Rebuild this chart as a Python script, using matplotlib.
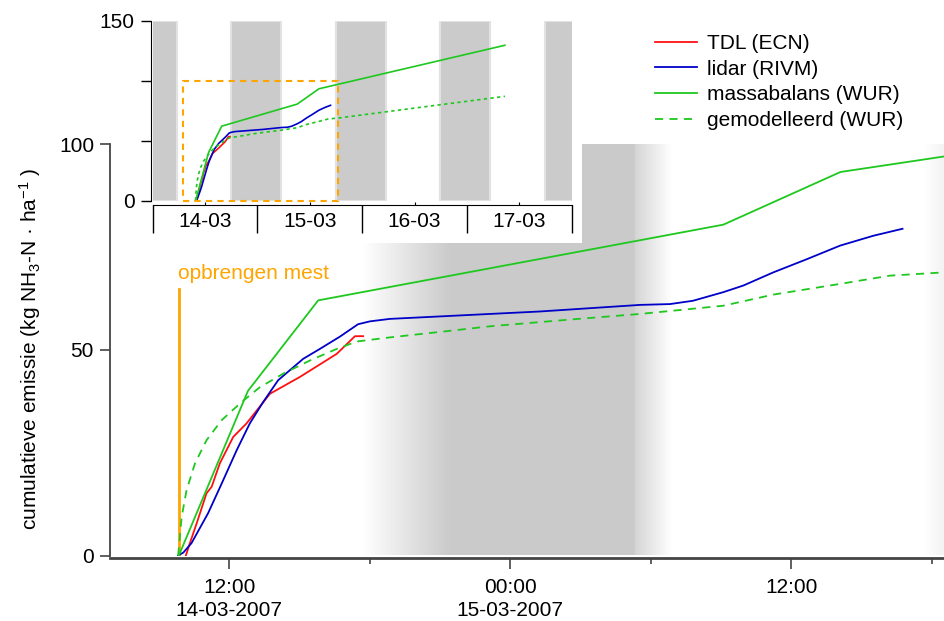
import numpy as np
import matplotlib
matplotlib.use('Agg')
from matplotlib import pyplot as plt
from matplotlib.patches import Rectangle

plt.rcParams['font.family'] = ['Liberation Sans', 'DejaVu Sans']
plt.rcParams['mathtext.fontset'] = 'custom'
plt.rcParams['mathtext.rm'] = 'Liberation Sans'
plt.rcParams['mathtext.it'] = 'Liberation Sans:italic'
plt.rcParams['font.size'] = 15

# time in hours since 14-03-2007 00:00, values in kg NH3-N/ha
tdl_t = [10.15, 10.32, 10.61, 11.03, 11.25, 11.60, 12.17, 12.74, 13.74, 15.02, 16.59, 17.37, 17.72]
tdl_v = [0, 3.0, 7.8, 15.1, 16.7, 22.4, 28.8, 32.1, 39.3, 43.4, 49.0, 53.3, 53.3]

lidar_t = [9.82, 10.04, 10.39, 11.10, 11.68, 12.32, 12.88, 13.45, 14.09, 15.16, 15.87, 16.73,
           17.50, 18.01, 18.86, 21.0, 23.13, 25.27, 29.54, 30.82, 31.8, 33.1, 33.95, 35.23,
           36.66, 38.08, 39.5, 40.75]
lidar_v = [0, 0.7, 3.0, 10.3, 17.5, 25.6, 32.1, 37.3, 42.6, 47.8, 50.2, 53.2,
           56.2, 56.9, 57.5, 58.1, 58.7, 59.3, 60.9, 61.1, 61.9, 64.0, 65.6, 68.8,
           72.0, 75.3, 77.7, 79.4]

massa_t = [9.85, 12.8, 15.8, 33.1, 38.1, 80.7]
massa_v = [0, 40.0, 62.0, 80.4, 93.2, 129.5]

model_t = [9.82, 9.97, 10.18, 10.54, 11.03, 11.68, 12.53, 13.31, 14.31, 15.45, 16.59, 17.44,
           18.86, 21.42, 23.13, 26.69, 29.54, 33.1, 35.23, 38.08, 40.2, 42.5, 80.7]
model_v = [0, 9.4, 15.9, 22.4, 28.0, 32.9, 37.3, 40.9, 44.2, 47.4, 50.2, 52.0,
           53.0, 54.6, 55.7, 57.4, 58.7, 60.7, 63.4, 66.0, 68.0, 68.8, 86.9]

application_t = 9.85
application_top = 64.8

# night shading (main: gradient keypoints, inset: plain bands)
shade_t = [17.7, 21.4, 29.3, 29.35, 30.9, 41.7, 45.4]
shade_level = [0, 1, 1, 0.8, 0, 0, 1]
inset_night_start = [-6.5, 17.9, 41.9, 65.8, 89.9]
inset_night_end = [5.6, 29.5, 53.4, 77.3, 101.5]

main_ticks = [12, 24, 36]
main_minor = [18, 30, 42]
main_labels = ['12:00\n14-03-2007', '00:00\n15-03-2007', '12:00']
inset_days = [0, 24, 48, 72, 96]
inset_noon = [12, 36, 60, 84]
inset_labels = ['14-03', '15-03', '16-03', '17-03']

t_min, t_max = 6.91, 42.52
red = '#ff1010'
blue = '#0000c8'
green = '#1ec81e'
orange = '#ffa500'
grey = 0.796
axcol = '#444444'

fig = plt.figure(figsize=(9.44, 6.21), dpi=100)
ax = fig.add_axes([110/944, 1-555.5/621, 834/944, 411.5/621])
ax.set_zorder(0)

tt = np.linspace(t_min, t_max, 800)
lev = np.interp(tt, shade_t, shade_level)
col = 1 - lev * (1 - grey)
img = np.repeat(col[None, :, None], 3, axis=2)
ax.imshow(img, extent=[t_min, t_max, 0, 100], aspect='auto', interpolation='bilinear', zorder=0)

ax.plot([application_t, application_t], [0, application_top], color=orange, lw=2, zorder=2)
ax.text(application_t - 0.05, 67.3, 'opbrengen mest', color=orange, ha='left', va='baseline')
l1, = ax.plot(tdl_t, tdl_v, color=red, lw=1.3, label='TDL (ECN)', zorder=3)
l2, = ax.plot(lidar_t, lidar_v, color=blue, lw=1.3, label='lidar (RIVM)', zorder=3)
l3, = ax.plot(massa_t, massa_v, color=green, lw=1.3, label='massabalans (WUR)', zorder=3)
l4, = ax.plot(model_t, model_v, color=green, lw=1.3, ls=(0, (4.5, 3.5)), label='gemodelleerd (WUR)', zorder=3)

ax.set_xlim(t_min, t_max)
ax.set_ylim(0, 100)
ax.spines['top'].set_visible(False)
ax.spines['right'].set_visible(False)
ax.spines['left'].set_color(axcol)
ax.spines['left'].set_linewidth(1.3)
ax.spines['bottom'].set_color(axcol)
ax.spines['bottom'].set_linewidth(2)
ax.spines['bottom'].set_position(('outward', 2))
ax.set_xticks(main_ticks)
ax.set_xticklabels(main_labels, linespacing=1.3)
ax.set_xticks(main_minor, minor=True)
ax.set_yticks([0, 50, 100])
ax.tick_params(axis='x', which='major', length=8, width=1.2, color=axcol, pad=6)
ax.tick_params(axis='x', which='minor', length=4, width=1.2, color=axcol)
ax.tick_params(axis='y', length=7.5, width=1.2, color=axcol, pad=4)

fig.text(30/944, 1-349/621, 'cumulatieve emissie (kg NH$_3$-N · ha$^{-1}$ )',
         rotation=90, ha='center', va='center')

# white box behind the inset
fig.add_artist(Rectangle((111/944, 1-243/621), 471/944, 243/621, transform=fig.transFigure,
                         facecolor='white', edgecolor='none', zorder=1))

ins = fig.add_axes([152.7/944, 1-200.5/621, 419/944, 179.8/621])
ins.set_zorder(2)
for s, e in zip(inset_night_start, inset_night_end):
    ins.axvspan(s, e, facecolor='#cbcbcb', edgecolor='#e2e2e2', lw=1.5, zorder=0)
ins.plot(tdl_t, tdl_v, color=red, lw=1.2)
ins.plot(lidar_t, lidar_v, color=blue, lw=1.2)
ins.plot(massa_t, massa_v, color=green, lw=1.2)
ins.plot(model_t, model_v, color=green, lw=1.2, ls=(0, (2, 2)))
ins.add_patch(Rectangle((t_min, 0), t_max - t_min, 100, fill=False, edgecolor=orange,
                        lw=1.5, ls=(0, (3, 2.5)), clip_on=False, zorder=4))
ins.set_xlim(0, 96)
ins.set_ylim(0, 150)
ins.spines['top'].set_visible(False)
ins.spines['right'].set_visible(False)
ins.spines['bottom'].set_position(('outward', 3))
ins.spines['left'].set_position(('outward', 1.5))
ins.set_yticks([0, 50, 100, 150])
ins.set_yticklabels(['0', '', '', '150'])
ins.set_xticks(inset_days)
ins.set_xticklabels([])
ins.set_xticks(inset_noon, minor=True)
ins.set_xticklabels(inset_labels, minor=True)
ins.tick_params(axis='x', which='major', length=20, width=1)
ins.tick_params(axis='x', which='minor', length=2.5, width=0.8, direction='in', pad=5)
ins.tick_params(axis='y', length=7.5, width=1, pad=4)

fig.legend(handles=[l1, l2, l3, l4], loc='upper left', bbox_to_anchor=(655/944, 1-34/621),
           frameon=False, borderpad=0, handlelength=2.0, handletextpad=0.48,
           labelspacing=0.32, borderaxespad=0)

plt.savefig('out.png', dpi=100)
